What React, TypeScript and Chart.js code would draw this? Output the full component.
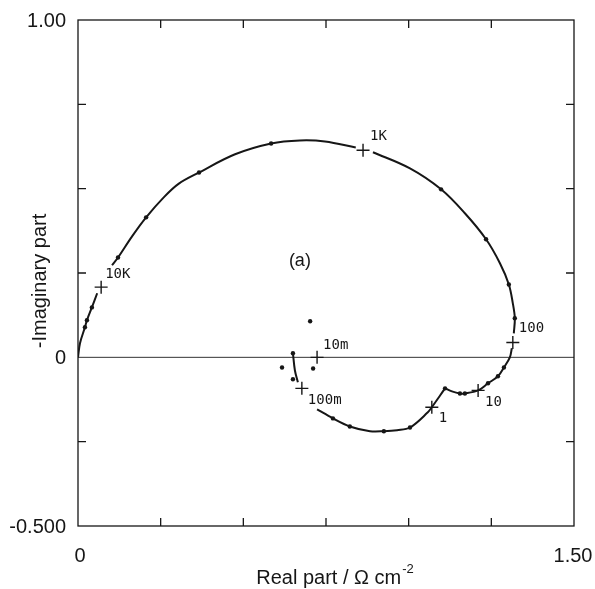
import React, { useEffect, useRef } from "react";
import { Chart, registerables } from "chart.js";

Chart.register(...registerables);

// ---- axis ranges & tick labels ----
const X_MIN = 0;
const X_MAX = 1.5;
const Y_MIN = -0.5;
const Y_MAX = 1.0;
const TICK_STEP = 0.25;

const xLabelValues = [0, 1.5];
const xLabelTexts = ["0", "1.50"];
const yLabelValues = [1.0, 0, -0.5];
const yLabelTexts = ["1.00", "0", "-0.500"];

const xTitle = "Real part / Ω cm";
const xTitleSup = "-2";
const yTitle = "-Imaginary part";
const panelLabel = "(a)";
const panelLabelPos = [0.671, 0.285];

// ---- fitted curve segments [real, -imag] ----
const curveA = [[0, 0], [0.006, 0.042], [0.021, 0.089], [0.027, 0.11], [0.042, 0.148], [0.058, 0.19]];
const curveB = [[0.103, 0.273], [0.121, 0.296], [0.163, 0.358], [0.206, 0.415], [0.26, 0.475], [0.305, 0.515], [0.366, 0.548], [0.475, 0.602], [0.584, 0.634], [0.671, 0.643], [0.747, 0.64], [0.84, 0.622]];
const curveC = [[0.892, 0.608], [1.004, 0.56], [1.098, 0.498], [1.17, 0.427], [1.234, 0.35], [1.276, 0.279], [1.303, 0.216], [1.315, 0.16], [1.321, 0.116], [1.318, 0.071]];
const curveD1 = [[1.312, 0.027], [1.306, 0.0], [1.288, -0.03], [1.27, -0.056], [1.24, -0.077], [1.21, -0.098], [1.17, -0.107], [1.155, -0.107], [1.131, -0.101], [1.11, -0.092]];
const curveD2 = [[1.11, -0.092], [1.095, -0.113], [1.07, -0.148], [1.058, -0.163], [1.004, -0.208], [0.965, -0.216], [0.925, -0.219], [0.883, -0.219], [0.822, -0.205], [0.771, -0.181], [0.723, -0.154]];
const curveE = [[0.665, -0.074], [0.656, -0.039], [0.65, 0.012]];

// ---- measured points ----
const measuredPoints = [
  [0.021, 0.089], [0.027, 0.11], [0.042, 0.148], [0.121, 0.296], [0.206, 0.415],
  [0.366, 0.548], [0.584, 0.634], [1.098, 0.498], [1.234, 0.35], [1.303, 0.216],
  [1.321, 0.116], [1.288, -0.03], [1.27, -0.056], [1.24, -0.077], [1.17, -0.107],
  [1.155, -0.107], [1.11, -0.092], [1.004, -0.208], [0.925, -0.219], [0.822, -0.205],
  [0.771, -0.181], [0.65, 0.012],
  [0.702, 0.107], [0.617, -0.03], [0.65, -0.065], [0.711, -0.033],
];

// ---- frequency markers ----
const freqPoints = [[0.07, 0.208], [0.862, 0.614], [1.315, 0.044], [1.21, -0.098], [1.07, -0.148], [0.677, -0.092], [0.723, 0.0]];
const freqLabels = ["10K", "1K", "100", "10", "1", "100m", "10m"];
// label offsets in px (style)
const freqLabelOffsets = [[4, -13], [7, -14], [6, -14], [7, 12], [7, 11], [6, 12], [6, -12]];

const toXY = (arr: number[][]) => arr.map(([x, y]) => ({ x, y }));

const INK = "#161616";

const decorPlugin = {
  id: "decor",
  beforeDatasetsDraw(chart: any) {
    const { ctx, chartArea: a, scales } = chart;
    const xs = scales.x;
    const ys = scales.y;
    ctx.save();
    // zero line
    const y0 = ys.getPixelForValue(0);
    ctx.strokeStyle = "#333";
    ctx.lineWidth = 1;
    ctx.beginPath();
    ctx.moveTo(a.left, y0);
    ctx.lineTo(a.right, y0);
    ctx.stroke();
    // frame
    ctx.strokeStyle = INK;
    ctx.lineWidth = 1.3;
    ctx.strokeRect(a.left, a.top, a.right - a.left, a.bottom - a.top);
    // inward ticks
    const TL = 8;
    ctx.lineWidth = 1.3;
    ctx.beginPath();
    xs.ticks.forEach((t: any) => {
      if (t.value <= X_MIN || t.value >= X_MAX) return;
      const px = xs.getPixelForValue(t.value);
      ctx.moveTo(px, a.bottom);
      ctx.lineTo(px, a.bottom - TL);
      ctx.moveTo(px, a.top);
      ctx.lineTo(px, a.top + TL);
    });
    ys.ticks.forEach((t: any) => {
      if (t.value <= Y_MIN || t.value >= Y_MAX || Math.abs(t.value) < 1e-9) return;
      const py = ys.getPixelForValue(t.value);
      ctx.moveTo(a.left, py);
      ctx.lineTo(a.left + TL, py);
      ctx.moveTo(a.right, py);
      ctx.lineTo(a.right - TL, py);
    });
    ctx.stroke();
    ctx.restore();
  },
  afterDraw(chart: any) {
    const { ctx, chartArea: a, scales } = chart;
    const xs = scales.x;
    const ys = scales.y;
    ctx.save();
    ctx.fillStyle = INK;
    // tick labels
    ctx.font = "20px 'Liberation Sans', Arial, sans-serif";
    ctx.textBaseline = "middle";
    ctx.textAlign = "center";
    xLabelValues.forEach((v, i) => {
      ctx.fillText(xLabelTexts[i], xs.getPixelForValue(v) + (i === 0 ? 2 : -1), a.bottom + 30);
    });
    ctx.textAlign = "right";
    yLabelValues.forEach((v, i) => {
      ctx.fillText(yLabelTexts[i], a.left - 12, ys.getPixelForValue(v) + 1);
    });
    // x title with superscript
    ctx.textBaseline = "alphabetic";
    ctx.textAlign = "left";
    const mainFont = "20px 'Liberation Sans', Arial, sans-serif";
    const supFont = "13px 'Liberation Sans', Arial, sans-serif";
    ctx.font = mainFont;
    const wMain = ctx.measureText(xTitle).width;
    ctx.font = supFont;
    const wSup = ctx.measureText(xTitleSup).width;
    const cx = (a.left + a.right) / 2 + 9;
    const startX = cx - (wMain + wSup + 1) / 2;
    ctx.font = mainFont;
    ctx.fillText(xTitle, startX, a.bottom + 58);
    ctx.font = supFont;
    ctx.fillText(xTitleSup, startX + wMain + 1, a.bottom + 47);
    // y title
    ctx.save();
    ctx.font = mainFont;
    ctx.translate(a.left - 32, (a.top + a.bottom) / 2 + 8);
    ctx.rotate(-Math.PI / 2);
    ctx.textAlign = "center";
    ctx.fillText(yTitle, 0, 0);
    ctx.restore();
    // panel label
    ctx.font = "18px 'Liberation Sans', Arial, sans-serif";
    ctx.textAlign = "center";
    ctx.textBaseline = "middle";
    ctx.fillText(panelLabel, xs.getPixelForValue(panelLabelPos[0]), ys.getPixelForValue(panelLabelPos[1]));
    // frequency labels
    ctx.font = "14px 'DejaVu Sans Mono', monospace";
    ctx.textAlign = "left";
    ctx.textBaseline = "middle";
    freqPoints.forEach((p, i) => {
      const px = xs.getPixelForValue(p[0]);
      const py = ys.getPixelForValue(p[1]);
      ctx.fillText(freqLabels[i], px + freqLabelOffsets[i][0], py + freqLabelOffsets[i][1]);
    });
    ctx.restore();
  },
};

const curveDataset = (pts: number[][]) => ({
  data: toXY(pts),
  showLine: true,
  borderColor: INK,
  borderWidth: 2,
  pointRadius: 0,
  tension: 0.35,
  fill: false,
});

export default function App() {
  const ref = useRef<HTMLCanvasElement | null>(null);
  useEffect(() => {
    document.body.style.margin = "0";
    if (!ref.current) return;
    const chart = new Chart(ref.current, {
      type: "scatter",
      data: {
        datasets: [
          curveDataset(curveA),
          curveDataset(curveB),
          curveDataset(curveC),
          curveDataset(curveD1),
          curveDataset(curveD2),
          curveDataset(curveE),
          {
            data: toXY(measuredPoints),
            showLine: false,
            pointRadius: 2.2,
            pointBackgroundColor: INK,
            pointBorderColor: INK,
            pointBorderWidth: 0,
          },
          {
            data: toXY(freqPoints),
            showLine: false,
            pointStyle: "cross",
            pointRadius: 6.5,
            pointBorderColor: INK,
            pointBorderWidth: 1.4,
          },
        ] as any,
      },
      options: {
        animation: false,
        responsive: false,
        devicePixelRatio: 1,
        layout: { padding: { left: 78, right: 21, top: 20, bottom: 63 } },
        plugins: { legend: { display: false }, tooltip: { enabled: false } },
        events: [],
        scales: {
          x: { type: "linear", display: false, min: X_MIN, max: X_MAX, ticks: { stepSize: TICK_STEP } },
          y: { type: "linear", display: false, min: Y_MIN, max: Y_MAX, ticks: { stepSize: TICK_STEP } },
        },
      } as any,
      plugins: [decorPlugin],
    });
    return () => chart.destroy();
  }, []);
  return (
    <div style={{ width: 595, height: 589, background: "#fff" }}>
      <canvas ref={ref} width={595} height={589} style={{ display: "block" }} />
    </div>
  );
}
